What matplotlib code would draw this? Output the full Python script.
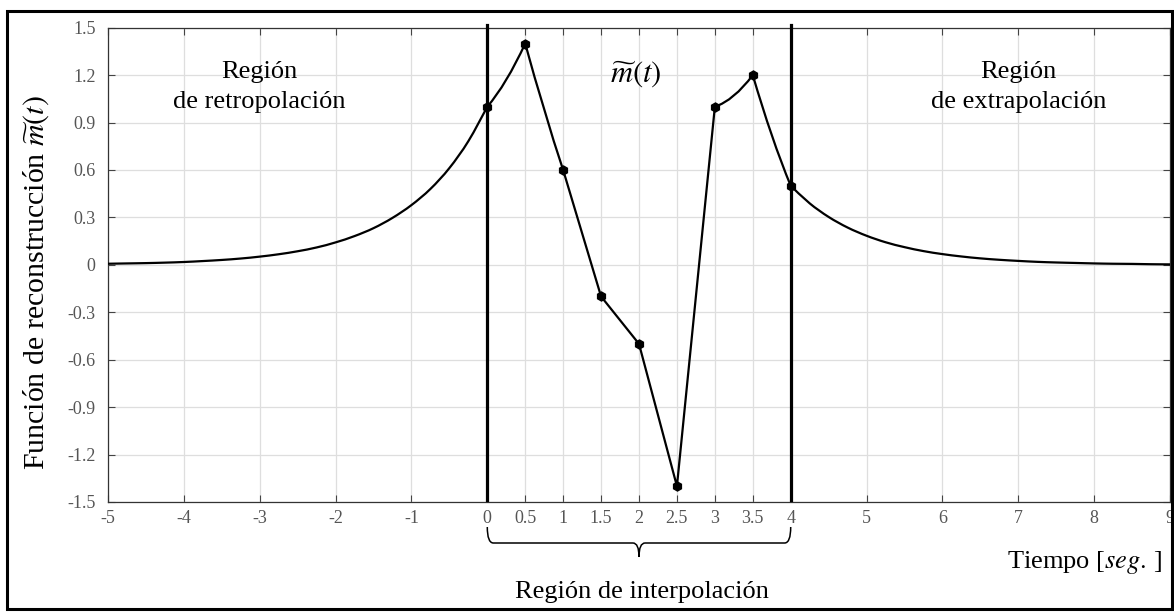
import numpy as np
import matplotlib
matplotlib.use("Agg")
import matplotlib.pyplot as plt
from matplotlib.path import Path
from matplotlib.patches import PathPatch, Rectangle
import matplotlib.transforms as mtransforms

plt.rcParams['font.family'] = ['Liberation Serif', 'DejaVu Serif']
plt.rcParams['mathtext.fontset'] = 'stix'

# ---------------- data ----------------
# sampled values (markers)
t_samples = [0, 0.5, 1, 1.5, 2, 2.5, 3, 3.5, 4]
m_samples = [1.0, 1.4, 0.6, -0.2, -0.5, -1.4, 1.0, 1.2, 0.5]

# value of the reconstruction at the middle of each sample interval (read)
m_interp_mid = [1.17, 0.98, 0.2, -0.35, -0.95, -0.2, 1.07, 0.82]

# retropolation tail (t <= 0)
t_left = [-5, -4.75, -4.5, -4.25, -4, -3.75, -3.5, -3.25, -3, -2.75, -2.5,
          -2.25, -2, -1.75, -1.5, -1.25, -1, -0.75, -0.5, -0.25, 0]
m_left = [0.007, 0.009, 0.011, 0.014, 0.018, 0.024, 0.031, 0.040, 0.052, 0.067,
          0.086, 0.110, 0.142, 0.182, 0.232, 0.297, 0.378, 0.480, 0.612, 0.782, 1.0]

# extrapolation tail (t >= 4)
t_right = [4, 4.25, 4.5, 4.75, 5, 5.25, 5.5, 5.75, 6, 6.25, 6.5, 6.75, 7,
           7.25, 7.5, 7.75, 8, 8.25, 8.5, 8.75, 9]
m_right = [0.5, 0.389, 0.303, 0.236, 0.184, 0.143, 0.112, 0.087, 0.068, 0.053,
           0.041, 0.032, 0.025, 0.019, 0.015, 0.012, 0.009, 0.007, 0.006, 0.004, 0.003]

interp_bounds = [0, 4]

x_ticks = [-5, -4, -3, -2, -1, 0, 0.5, 1, 1.5, 2, 2.5, 3, 3.5, 4, 5, 6, 7, 8, 9]
x_tick_labels = ['-5', '-4', '-3', '-2', '-1', '0', '0.5', '1', '1.5', '2', '2.5',
                 '3', '3.5', '4', '5', '6', '7', '8', '9']
y_ticks = [-1.5, -1.2, -0.9, -0.6, -0.3, 0, 0.3, 0.6, 0.9, 1.2, 1.5]
y_tick_labels = ['-1.5', '-1.2', '-0.9', '-0.6', '-0.3', '0', '0.3', '0.6',
                 '0.9', '1.2', '1.5']


# ---------------- helpers (drawing only) ----------------
def smooth_path(xs, ys):
    """Cubic Bezier path passing through the given points (Catmull-Rom)."""
    P = np.column_stack([xs, ys]).astype(float)
    n = len(P)
    verts = [tuple(P[0])]
    codes = [Path.MOVETO]
    for i in range(n - 1):
        p0 = P[i - 1] if i > 0 else P[i]
        p1 = P[i]
        p2 = P[i + 1]
        p3 = P[i + 2] if i + 2 < n else P[i + 1]
        c1 = p1 + (p2 - p0) / 6.0
        c2 = p2 - (p3 - p1) / 6.0
        verts += [tuple(c1), tuple(c2), tuple(p2)]
        codes += [Path.CURVE4] * 3
    return Path(verts, codes)


def segment_path(xs, ys, mids):
    """Quadratic segments between samples, each passing through its mid value."""
    verts = [(xs[0], ys[0])]
    codes = [Path.MOVETO]
    for i in range(len(xs) - 1):
        xm = (xs[i] + xs[i + 1]) / 2.0
        cy = 2 * mids[i] - (ys[i] + ys[i + 1]) / 2.0
        verts += [(xm, cy), (xs[i + 1], ys[i + 1])]
        codes += [Path.CURVE3, Path.CURVE3]
    return Path(verts, codes)


# ---------------- figure ----------------
W, H = 1174, 612
fig = plt.figure(figsize=(W / 100, H / 100), dpi=100)
ax = fig.add_axes([108 / W, 1 - 502 / H, (1170 - 108) / W, (502 - 27.7) / H])

ax.set_xlim(-5, 9)
ax.set_ylim(-1.5, 1.5)

ax.grid(True, color='#dedede', linewidth=0.9)
ax.set_axisbelow(True)

pkw = dict(fill=False, edgecolor='black', linewidth=1.6, capstyle='round',
           joinstyle='round', zorder=4)
ax.add_patch(PathPatch(smooth_path(t_left, m_left), **pkw))
ax.add_patch(PathPatch(smooth_path(t_right, m_right), **pkw))
ax.add_patch(PathPatch(segment_path(t_samples, m_samples, m_interp_mid), **pkw))
ax.plot(t_samples, m_samples, linestyle='none', marker='h', markersize=6.5,
        color='black', zorder=5)

for xb in interp_bounds:
    ax.axvline(xb, ymin=0.004, ymax=1.006, color='black', linewidth=2.3,
               clip_on=False, zorder=6)

ax.set_xticks(x_ticks)
ax.set_xticklabels(x_tick_labels)
ax.set_yticks(y_ticks)
ax.set_yticklabels(y_tick_labels)
ax.tick_params(direction='in', length=5, width=0.8, colors='#444444',
               labelsize=13, top=True, right=True, labelcolor='#555555')
ax.tick_params(axis='x', pad=6)
ax.tick_params(axis='y', pad=9)
for sp in ax.spines.values():
    sp.set_color('#333333')
    sp.set_linewidth(0.9)

ax.set_ylabel(r'Función de reconstrucción $\widetilde{m}(t)$', fontsize=21.5)
ax.yaxis.set_label_coords(-0.054, 0.462)

# region labels
ax.text(-3.0, 1.125, 'Región\nde retropolación', ha='center', va='center',
        fontsize=19, linespacing=1.52)
ax.text(7.0, 1.125, 'Región\nde extrapolación', ha='center', va='center',
        fontsize=19, linespacing=1.52)
ax.text(1.95, 1.21, r'$\widetilde{m}(t)$', ha='center', va='center', fontsize=22)

# brace under the interpolation region
trans = mtransforms.blended_transform_factory(ax.transData, fig.transFigure)
x0, x1 = interp_bounds
xm = (x0 + x1) / 2
ytop = 1 - 527 / H
ymid = 1 - 543 / H
ybot = 1 - 557 / H
dx = 0.08
verts = [
    (x0, ytop), (x0, ymid), (x0 + dx, ymid),
    (xm - dx, ymid), (xm, ymid), (xm, ybot),
    (xm, ymid), (xm + dx, ymid),
    (x1 - dx, ymid), (x1, ymid), (x1, ytop),
]
codes = [Path.MOVETO, Path.CURVE3, Path.CURVE3,
         Path.LINETO, Path.CURVE3, Path.CURVE3,
         Path.CURVE3, Path.CURVE3,
         Path.LINETO, Path.CURVE3, Path.CURVE3]
brace = PathPatch(Path(verts, codes), transform=trans, fill=False,
                  edgecolor='black', linewidth=1.1, clip_on=False)
fig.add_artist(brace)

fig.text(642 / W, 1 - 592 / H, 'Región de interpolación', ha='center',
         va='center', fontsize=19)
fig.text(1162 / W, 1 - 562 / H, r'Tiempo [$\mathit{seg.}\,$]', ha='right',
         va='center', fontsize=19)

# figure border
fig.add_artist(Rectangle((7 / W, 3 / H), (1172 - 7) / W, (601 - 3) / H,
                         transform=fig.transFigure, fill=False,
                         edgecolor='black', linewidth=2.2))

fig.savefig('out.png', dpi=100)
